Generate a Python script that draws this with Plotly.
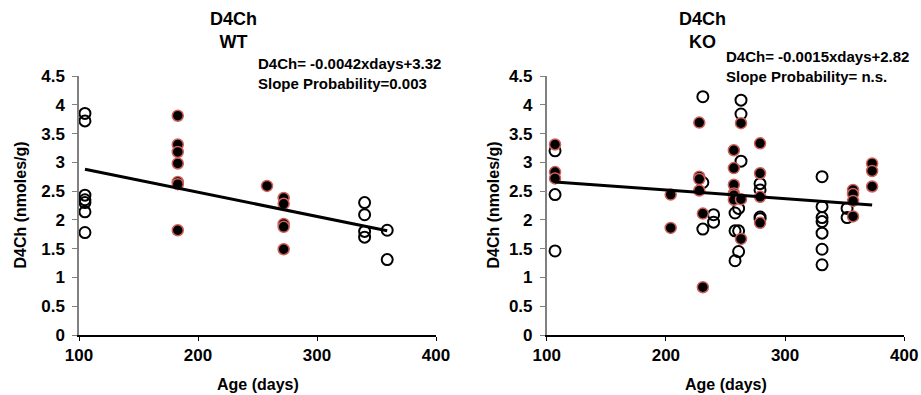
import plotly.graph_objects as go

# ---------------- data ----------------
wt_open_x = [105, 105, 105, 105, 105, 105, 105, 340, 340, 340, 340, 359, 359]
wt_open_y = [3.85, 3.72, 2.43, 2.35, 2.30, 2.14, 1.78, 2.30, 2.09, 1.80, 1.70, 1.82, 1.31]
wt_fill_x = [183, 183, 183, 183, 183, 183, 183, 258, 272, 272, 272, 272, 272]
wt_fill_y = [3.81, 3.31, 3.18, 2.98, 2.66, 2.62, 1.82, 2.59, 2.38, 2.28, 1.93, 1.88, 1.49]

ko_open_x = [107, 107, 107, 231, 231, 231, 240, 240, 263, 263, 263, 258, 258, 258,
             261, 261, 261, 279, 279, 279, 279, 331, 331, 331, 331, 331, 331, 331, 352, 352]
ko_open_y = [3.20, 2.44, 1.46, 4.14, 2.65, 1.84, 2.09, 1.96, 4.08, 3.84, 3.02, 2.12, 1.81, 1.29,
             2.20, 1.81, 1.45, 2.63, 2.52, 2.05, 2.02, 2.75, 2.23, 2.04, 1.97, 1.77, 1.49, 1.22, 2.20, 2.04]
ko_fill_x = [107, 107, 107, 204, 204, 228, 228, 228, 228, 231, 231, 257, 257, 257, 257, 257, 257,
             263, 263, 263, 279, 279, 279, 279, 357, 357, 357, 357, 373, 373, 373]
ko_fill_y = [3.31, 2.83, 2.72, 2.44, 1.86, 3.69, 2.75, 2.71, 2.51, 2.11, 0.83, 3.21, 2.90, 2.61, 2.46, 2.43, 2.35,
             3.68, 2.36, 1.67, 3.33, 2.81, 2.40, 1.95, 2.52, 2.45, 2.33, 2.06, 2.98, 2.85, 2.58]

wt_slope, wt_intercept = -0.0042, 3.32
ko_slope, ko_intercept = -0.0015, 2.82

panel_titles = ["D4Ch<br>WT", "D4Ch<br>KO"]
eq_texts = ["D4Ch= -0.0042xdays+3.32<br>Slope Probability=0.003",
            "D4Ch= -0.0015xdays+2.82<br>Slope Probability= n.s."]
x_ticks = [100, 200, 300, 400]
x_ticklabels = ["100", "200", "300", "400"]
y_ticks = [0, 0.5, 1, 1.5, 2, 2.5, 3, 3.5, 4, 4.5]
y_ticklabels = ["0", "0.5", "1", "1.5", "2", "2.5", "3", "3.5", "4", "4.5"]

FONT = "Liberation Sans, Arial, sans-serif"
W, H = 921, 395

def b(s):
    return "<b>" + s.replace("<br>", "</b><br><b>") + "</b>"

fig = go.Figure()

def add_panel(ox, oy, fx, fy, slope, intercept, xa, ya):
    fig.add_trace(go.Scatter(x=ox, y=oy, mode="markers", xaxis=xa, yaxis=ya,
                             marker=dict(symbol="circle-open", size=11, color="black",
                                         line=dict(width=2, color="black")),
                             showlegend=False))
    fig.add_trace(go.Scatter(x=fx, y=fy, mode="markers", xaxis=xa, yaxis=ya,
                             marker=dict(symbol="circle", size=11, color="black",
                                         line=dict(width=1.5, color="#d0605a")),
                             showlegend=False))
    allx = list(ox) + list(fx)
    x0, x1 = min(allx), max(allx)
    fig.add_trace(go.Scatter(x=[x0, x1], y=[slope * x0 + intercept, slope * x1 + intercept],
                             mode="lines", xaxis=xa, yaxis=ya,
                             line=dict(color="black", width=3), showlegend=False))

add_panel(wt_open_x, wt_open_y, wt_fill_x, wt_fill_y, wt_slope, wt_intercept, "x", "y")
add_panel(ko_open_x, ko_open_y, ko_fill_x, ko_fill_y, ko_slope, ko_intercept, "x2", "y2")

ydom = [1 - 335 / H, 1 - 76 / H]
xdom1 = [79 / W, 436 / W]
xdom2 = [546.7 / W, 904.3 / W]

tickfont = dict(family=FONT, size=17, color="black")

def xaxis(dom, anchor):
    return dict(domain=dom, anchor=anchor, range=[100, 400], tickvals=x_ticks,
                ticktext=[b(t) for t in x_ticklabels], automargin=False,
                showgrid=False, zeroline=False, showline=True, linecolor="black", linewidth=1.5,
                ticks="outside", ticklen=4, tickcolor="black", tickwidth=1,
                tickfont=tickfont)

def yaxis(anchor):
    return dict(domain=ydom, anchor=anchor, range=[0, 4.5], tickvals=y_ticks,
                ticktext=[b(t) for t in y_ticklabels], automargin=False,
                showgrid=False, zeroline=False, showline=True, linecolor="#808080", linewidth=1.5,
                ticks="outside", ticklen=5, tickcolor="#808080", tickwidth=1,
                ticklabelstandoff=4, tickfont=tickfont)

fig.update_layout(
    width=W, height=H, margin=dict(l=0, r=0, t=0, b=0, autoexpand=False),
    paper_bgcolor="white", plot_bgcolor="white",
    xaxis=xaxis(xdom1, "y"), yaxis=yaxis("x"),
    xaxis2=xaxis(xdom2, "y2"), yaxis2=yaxis("x2"),
    font=dict(family=FONT, color="black"),
)

annots = []
# panel titles
for cx, txt in zip([233, 702], panel_titles):
    annots.append(dict(x=cx / W, y=1 - 7 / H, xref="paper", yref="paper", xanchor="center", yanchor="top",
                       text=b(txt), showarrow=False, align="center",
                       font=dict(family=FONT, size=18, color="black")))
# equation texts
for lx, ty, txt in zip([256, 724], [53, 46], eq_texts):
    annots.append(dict(x=lx / W, y=1 - ty / H, xref="paper", yref="paper", xanchor="left", yanchor="top",
                       text=b(txt), showarrow=False, align="left",
                       font=dict(family=FONT, size=15, color="black")))
# x axis titles
for cx in [(79 + 436) / 2, (546.7 + 904.3) / 2]:
    annots.append(dict(x=cx / W, y=1 - 384 / H, xref="paper", yref="paper",
                       xanchor="center", yanchor="middle",
                       text=b("Age (days)"), showarrow=False,
                       font=dict(family=FONT, size=16, color="black")))
# y axis titles
for cx in [20, 493]:
    annots.append(dict(x=cx / W, y=(ydom[0] + ydom[1]) / 2, xref="paper", yref="paper",
                       xanchor="center", yanchor="middle", textangle=-90,
                       text=b("D4Ch (nmoles/g)"), showarrow=False,
                       font=dict(family=FONT, size=16, color="black")))
fig.update_layout(annotations=annots)

fig.write_html("out.html")
